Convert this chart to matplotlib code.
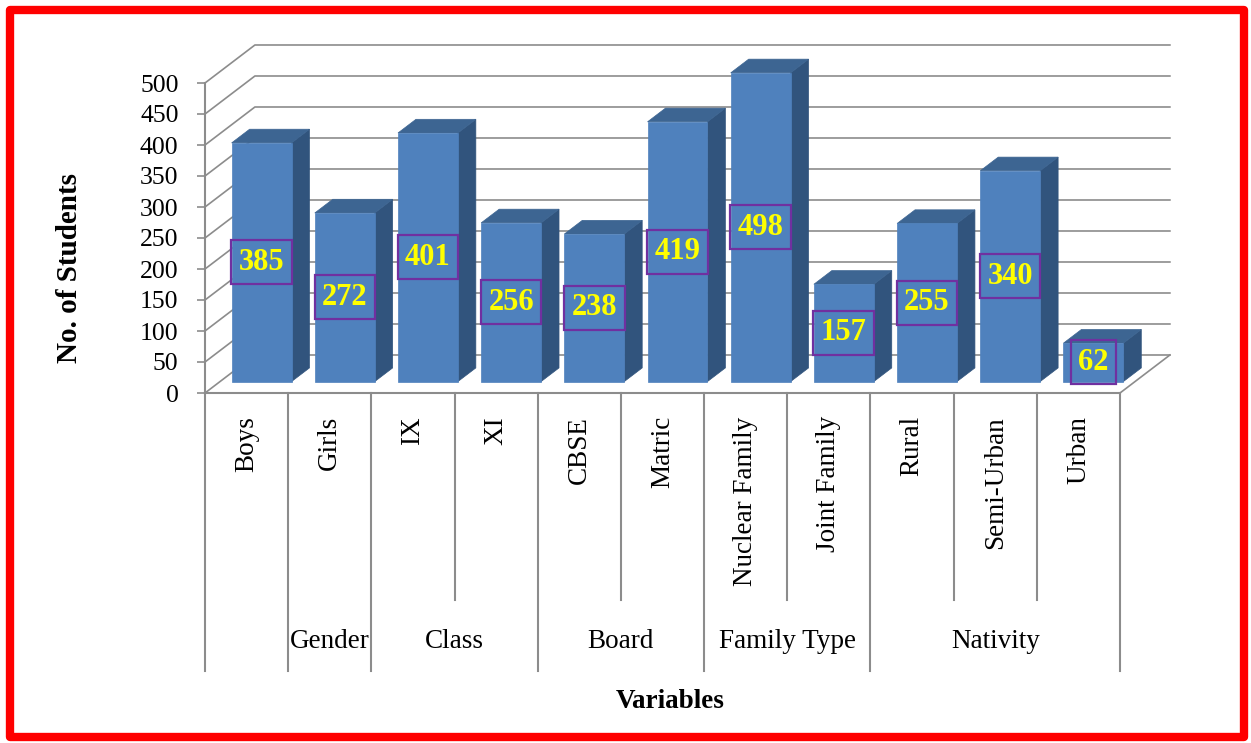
import matplotlib.pyplot as plt
from matplotlib.patches import Polygon, Rectangle
import numpy as np

# student counts by variable
categories = ['Boys', 'Girls', 'IX', 'XI', 'CBSE', 'Matric', 'Nuclear Family',
              'Joint Family', 'Rural', 'Semi-Urban', 'Urban']
students = [385, 272, 401, 256, 238, 419, 498, 157, 255, 340, 62]
groups = ['', 'Gender', 'Class', 'Board', 'Family Type', 'Nativity']
group_sizes = [1, 1, 2, 2, 2, 3]
yticks = list(range(0, 501, 50))

plt.rcParams['font.family'] = ['Liberation Serif', 'DejaVu Serif']

GRID = '#8c8c8c'
FRONT = '#4f81bd'
TOP = '#3d6592'
SIDE = '#31547d'

# depth of the 3d box (x in categories, y in data units)
DX, DY = 0.60, 61.3
F0, F1 = 0.30, 0.66
BAR_W = 0.72


def draw_bar(ax, i, v):
    x0 = i + 0.5 - BAR_W / 2 + F0 * DX
    x1 = x0 + BAR_W
    y0 = F0 * DY
    y1 = v + F0 * DY
    ddx = (F1 - F0) * DX
    ddy = (F1 - F0) * DY
    front = [(x0, y0), (x1, y0), (x1, y1), (x0, y1)]
    top = [(x0, y1), (x1, y1), (x1 + ddx, y1 + ddy), (x0 + ddx, y1 + ddy)]
    side = [(x1, y0), (x1 + ddx, y0 + ddy), (x1 + ddx, y1 + ddy), (x1, y1)]
    for pts, c in [(side, SIDE), (top, TOP), (front, FRONT)]:
        ax.add_patch(Polygon(pts, closed=True, facecolor=c, edgecolor=c,
                             lw=0.5, zorder=3, clip_on=False))
    ax.text((x0 + x1) / 2, (y0 + y1) / 2, str(v), ha='center', va='center',
            fontsize=22, fontweight='bold', color='#ffff00', zorder=5,
            bbox=dict(boxstyle='square,pad=0.245', facecolor='none',
                      edgecolor='#7030a0', lw=1.6))


fig = plt.figure(figsize=(12.51, 7.43), dpi=100)
W, H = 1251, 743
ax = fig.add_axes([205 / W, (H - 393) / H, 915 / W, 310 / H])
n = len(categories)
ax.set_xlim(0, n)
ax.set_ylim(0, 500)

# walls: gridlines run from the front axis back and across
for t in yticks:
    ax.plot([0, DX, n + DX], [t, t + DY, t + DY], color=GRID, lw=1.2,
            zorder=1, clip_on=False)
ax.plot([n, n + DX], [0, DY], color=GRID, lw=1.2, zorder=1, clip_on=False)

for i, v in enumerate(students):
    draw_bar(ax, i, v)

for s in ['top', 'right']:
    ax.spines[s].set_visible(False)
for s in ['left', 'bottom']:
    ax.spines[s].set_color(GRID)
    ax.spines[s].set_linewidth(1.5)
ax.set_yticks(yticks)
ax.set_yticklabels([str(t) for t in yticks], fontsize=18.5)
ax.tick_params(axis='y', length=6, width=1.2, color=GRID, pad=13)
ax.set_xticks([])

# category labels and group separators below the axis
tr = ax.get_xaxis_transform()
for i, c in enumerate(categories):
    ax.text(i + 0.5, -0.075, c, rotation=90, ha='center', va='top',
            fontsize=19.5, transform=tr)

bounds = np.cumsum([0] + group_sizes)
for x in range(n + 1):
    bottom = -0.897 if x in bounds else -0.668
    ax.plot([x, x], [0, bottom], color=GRID, lw=1.5, transform=tr,
            clip_on=False)
for g, a, b in zip(groups, bounds[:-1], bounds[1:]):
    ax.text((a + b) / 2, -0.803, g, ha='center', va='center', fontsize=19.5,
            transform=tr)

ax.set_ylabel('No. of Students', fontsize=21, fontweight='bold')
ax.yaxis.set_label_coords(-0.133, 0.403)
ax.set_xlabel('Variables', fontsize=19.5, fontweight='bold')
ax.xaxis.set_label_coords(0.508, -0.955)

# red frame around the chart
fig.patches.append(Rectangle((10 / W, 6 / H), 1234 / W, 727 / H,
                             transform=fig.transFigure, fill=False,
                             edgecolor='#ff0000', lw=6, joinstyle='round'))

fig.savefig('out.png', dpi=100)
